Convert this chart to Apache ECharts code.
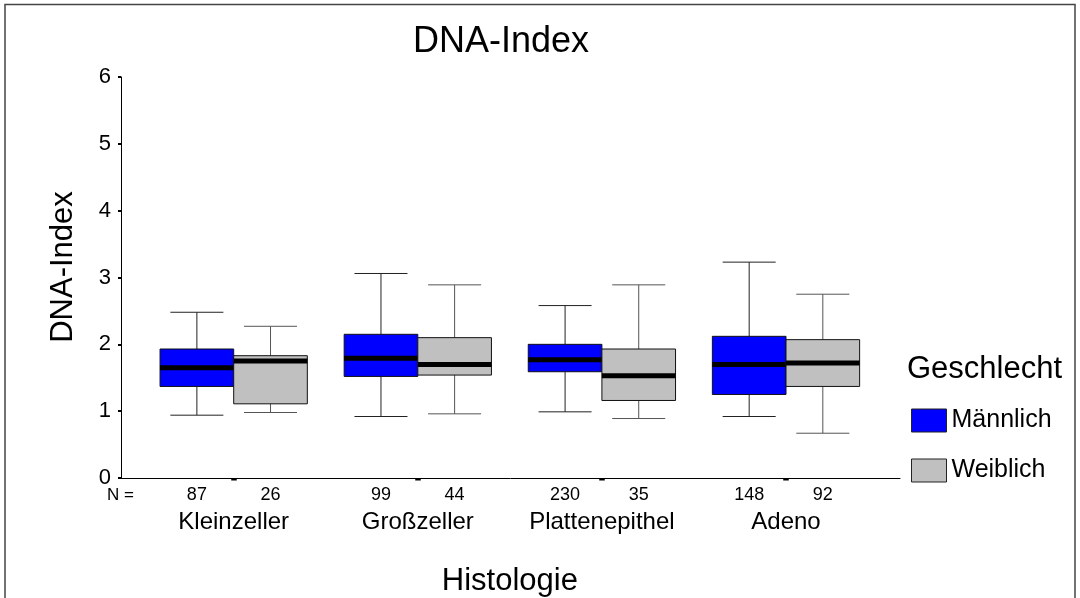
<!DOCTYPE html>
<html>
<head>
<meta charset="utf-8">
<title>DNA-Index</title>
<script src="https://cdn.jsdelivr.net/npm/echarts@6/dist/echarts.min.js"></script>
<style>
	html,body{margin:0;padding:0;background:#fff;}
	#chart{width:1080px;height:598px;}
</style>
</head>
<body>
<div id="chart"></div>
<script>
	// Histologie groups
	var categories = ["Kleinzeller","Großzeller","Plattenepithel","Adeno"];
	// [min, Q1, median, Q3, max]
	var maleBox = [
		[0.94,1.37,1.65,1.93,2.48],
		[0.92,1.52,1.79,2.15,3.06],
		[0.99,1.59,1.77,2.00,2.58],
		[0.92,1.25,1.70,2.12,3.23]
	];
	var femaleBox = [
		[0.98,1.11,1.75,1.83,2.27],
		[0.96,1.54,1.70,2.10,2.89],
		[0.89,1.16,1.53,1.93,2.89],
		[0.67,1.37,1.72,2.07,2.75]
	];
	var maleN = [87,99,230,148];
	var femaleN = [26,44,35,92];
	var yTicks = [0,1,2,3,4,5,6];

	var FONT = "Liberation Sans, Arial, sans-serif";

	function toData(box,n){
		var out = [];
		for(var i=0;i<box.length;i++){
			out.push([i].concat(box[i]).concat([n[i]]));
		}
		return out;
	}

	// side: -1 left half of the band, 1 right half
	function makeRender(side,fill,whisker){
		return function(params,api){
			var idx = api.value(0);
			var band = api.size([1,0])[0];
			var w = band*0.4;
			var cap = w*0.72;
			var cx = api.coord([idx,0])[0] + side*band*0.2;
			var y0 = api.coord([idx,0])[1];
			var yMin = api.coord([idx,api.value(1)])[1];
			var yQ1 = api.coord([idx,api.value(2)])[1];
			var yMed = api.coord([idx,api.value(3)])[1];
			var yQ3 = api.coord([idx,api.value(4)])[1];
			var yMax = api.coord([idx,api.value(5)])[1];
			var lineStyle = {stroke:whisker,lineWidth:1};
			return {
				type:"group",
				children:[
					{type:"line",shape:{x1:cx,y1:yMax,x2:cx,y2:yQ3},style:lineStyle},
					{type:"line",shape:{x1:cx,y1:yQ1,x2:cx,y2:yMin},style:lineStyle},
					{type:"line",shape:{x1:cx-cap/2,y1:yMax,x2:cx+cap/2,y2:yMax},style:lineStyle},
					{type:"line",shape:{x1:cx-cap/2,y1:yMin,x2:cx+cap/2,y2:yMin},style:lineStyle},
					{type:"rect",shape:{x:cx-w/2,y:yQ3,width:w,height:yQ1-yQ3},style:{fill:fill,stroke:"#111",lineWidth:1}},
					{type:"line",shape:{x1:cx-w/2,y1:yMed,x2:cx+w/2,y2:yMed},style:{stroke:"#000",lineWidth:5}},
					{type:"text",x:cx,y:y0+17,style:{text:String(api.value(6)),fill:"#000",font:"18px "+FONT,align:"center",verticalAlign:"middle"}}
				]
			};
		};
	}

	var chart = echarts.init(document.getElementById("chart"));
	chart.setOption({
		animation:false,
		backgroundColor:"#fff",
		textStyle:{fontFamily:FONT,color:"#000"},
		title:[
			{text:"DNA-Index",left:413,top:24,padding:0,textStyle:{fontSize:36,fontWeight:"normal",color:"#000",fontFamily:FONT}},
			{text:"Geschlecht",left:907,top:354,padding:0,textStyle:{fontSize:31,fontWeight:"normal",color:"#000",fontFamily:FONT}}
		],
		legend:{
			orient:"vertical",
			left:911,
			top:408,
			padding:0,
			icon:"rect",
			itemWidth:35,
			itemHeight:23,
			itemGap:25,
			selectedMode:false,
			textStyle:{fontSize:25,color:"#000",fontFamily:FONT},
			data:[
				{name:"Männlich",itemStyle:{color:"#0000ff",borderColor:"#222",borderWidth:1}},
				{name:"Weiblich",itemStyle:{color:"#c0c0c0",borderColor:"#222",borderWidth:1}}
			]
		},
		graphic:[
			{type:"rect",silent:true,shape:{x:5,y:4.5,width:1070,height:620},style:{fill:null,stroke:"#444",lineWidth:1.5}},
			{type:"text",silent:true,left:107,top:487,style:{text:"N =",font:"17px "+FONT,fill:"#000"}}
		],
		grid:[
			{left:121,top:77,width:779,height:401,containLabel:false,outerBoundsMode:"none"},
			{left:141.65,top:77,width:736.4,height:401,containLabel:false,outerBoundsMode:"none"}
		],
		xAxis:[
			{
				type:"value",gridIndex:0,min:0,max:1,
				axisLine:{show:true,lineStyle:{color:"#000",width:1}},
				axisTick:{show:false},axisLabel:{show:false},splitLine:{show:false}
			},
			{
				type:"category",gridIndex:1,data:categories,
				name:"Histologie",nameLocation:"middle",nameGap:88,
				nameTextStyle:{fontSize:31,color:"#000",fontFamily:FONT},
				axisLine:{show:false},
				axisTick:{show:true,alignWithLabel:true,length:2.5,lineStyle:{color:"#000",width:5.5}},
				axisLabel:{interval:0,hideOverlap:false,margin:32,fontSize:24,color:"#000",fontFamily:FONT},
				splitLine:{show:false}
			}
		],
		yAxis:[
			{
				type:"value",gridIndex:0,min:yTicks[0],max:yTicks[yTicks.length-1],interval:1,
				name:"DNA-Index",nameLocation:"middle",nameGap:42,
				nameTextStyle:{fontSize:31,color:"#000",fontFamily:FONT,padding:[0,0,0,21]},
				axisLine:{show:true,lineStyle:{color:"#000",width:1}},
				axisTick:{show:true,inside:false,length:3,lineStyle:{color:"#000",width:2}},
				axisLabel:{margin:10,fontSize:22,color:"#000",fontFamily:FONT},
				splitLine:{show:false}
			},
			{
				type:"value",gridIndex:1,min:yTicks[0],max:yTicks[yTicks.length-1],interval:1,
				show:false
			}
		],
		series:[
			{
				name:"Männlich",type:"custom",xAxisIndex:1,yAxisIndex:1,clip:false,
				itemStyle:{color:"#0000ff"},
				renderItem:makeRender(-1,"#0000ff","#222"),
				encode:{x:0,y:[1,2,3,4,5]},
				data:toData(maleBox,maleN)
			},
			{
				name:"Weiblich",type:"custom",xAxisIndex:1,yAxisIndex:1,clip:false,
				itemStyle:{color:"#c0c0c0"},
				renderItem:makeRender(1,"#c0c0c0","#555"),
				encode:{x:0,y:[1,2,3,4,5]},
				data:toData(femaleBox,femaleN)
			}
		]
	});
</script>
</body>
</html>
